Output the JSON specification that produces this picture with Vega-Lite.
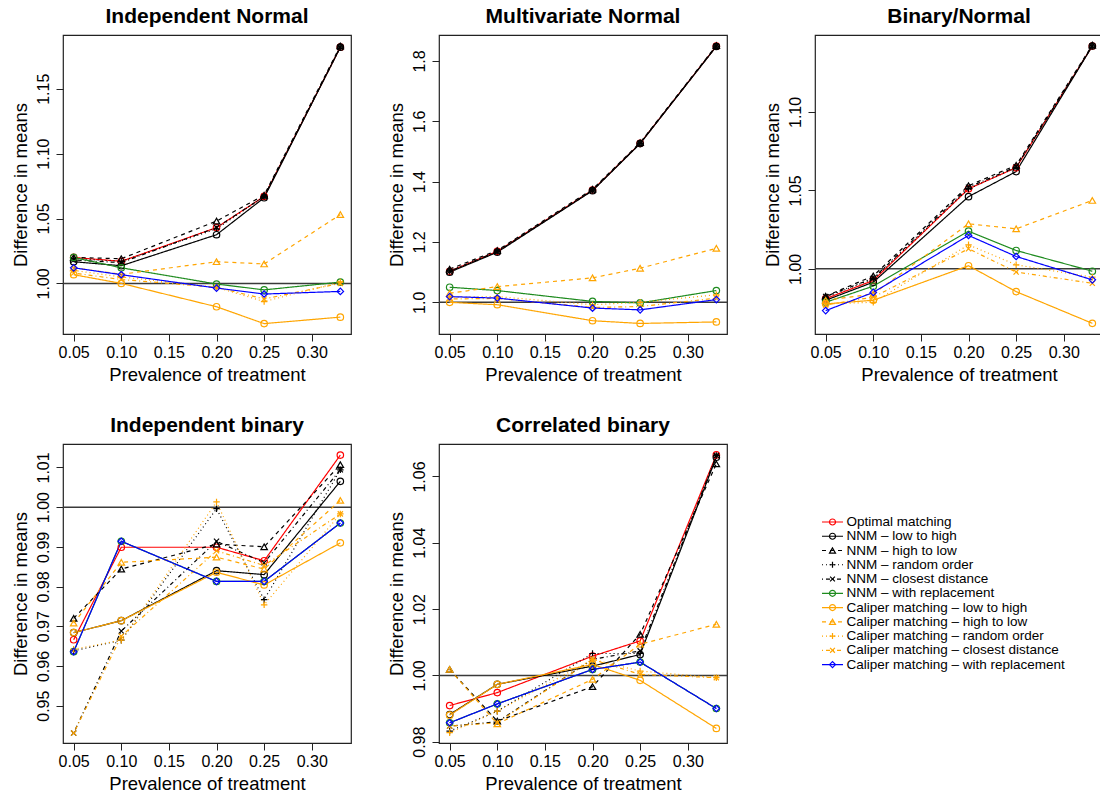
{
"$schema": "https://vega.github.io/schema/vega-lite/v6.json",
"padding": {"left": 10, "top": 5, "right": 0, "bottom": 0},
"background": "white",
"bounds": "flush",
"columns": 3,
"spacing": {"row": 110, "column": 88},
"resolve": {"scale": {"x": "independent", "y": "independent"}},
"datasets": {
"main": [
{"p":"IN","s":"OPT","x":0.05,"y":1.020},{"p":"IN","s":"OPT","x":0.1,"y":1.017},{"p":"IN","s":"OPT","x":0.2,"y":1.043},{"p":"IN","s":"OPT","x":0.25,"y":1.067},{"p":"IN","s":"OPT","x":0.33,"y":1.182},
{"p":"IN","s":"NLH","x":0.05,"y":1.0167},{"p":"IN","s":"NLH","x":0.1,"y":1.0136},{"p":"IN","s":"NLH","x":0.2,"y":1.0375},{"p":"IN","s":"NLH","x":0.25,"y":1.066},{"p":"IN","s":"NLH","x":0.33,"y":1.182},
{"p":"IN","s":"NHL","x":0.05,"y":1.020},{"p":"IN","s":"NHL","x":0.1,"y":1.019},{"p":"IN","s":"NHL","x":0.2,"y":1.048},{"p":"IN","s":"NHL","x":0.25,"y":1.068},{"p":"IN","s":"NHL","x":0.33,"y":1.183},
{"p":"IN","s":"NRO","x":0.05,"y":1.019},{"p":"IN","s":"NRO","x":0.1,"y":1.017},{"p":"IN","s":"NRO","x":0.2,"y":1.042},{"p":"IN","s":"NRO","x":0.25,"y":1.067},{"p":"IN","s":"NRO","x":0.33,"y":1.182},
{"p":"IN","s":"NCD","x":0.05,"y":1.018},{"p":"IN","s":"NCD","x":0.1,"y":1.016},{"p":"IN","s":"NCD","x":0.2,"y":1.043},{"p":"IN","s":"NCD","x":0.25,"y":1.067},{"p":"IN","s":"NCD","x":0.33,"y":1.182},
{"p":"IN","s":"NWR","x":0.05,"y":1.020},{"p":"IN","s":"NWR","x":0.1,"y":1.012},{"p":"IN","s":"NWR","x":0.2,"y":0.9995},{"p":"IN","s":"NWR","x":0.25,"y":0.995},{"p":"IN","s":"NWR","x":0.33,"y":1.001},
{"p":"IN","s":"CLH","x":0.05,"y":1.0067},{"p":"IN","s":"CLH","x":0.1,"y":1.000},{"p":"IN","s":"CLH","x":0.2,"y":0.982},{"p":"IN","s":"CLH","x":0.25,"y":0.969},{"p":"IN","s":"CLH","x":0.33,"y":0.974},
{"p":"IN","s":"CHL","x":0.05,"y":1.012},{"p":"IN","s":"CHL","x":0.1,"y":1.007},{"p":"IN","s":"CHL","x":0.2,"y":1.0167},{"p":"IN","s":"CHL","x":0.25,"y":1.015},{"p":"IN","s":"CHL","x":0.33,"y":1.053},
{"p":"IN","s":"CRO","x":0.05,"y":1.010},{"p":"IN","s":"CRO","x":0.1,"y":1.005},{"p":"IN","s":"CRO","x":0.2,"y":0.997},{"p":"IN","s":"CRO","x":0.25,"y":0.986},{"p":"IN","s":"CRO","x":0.33,"y":1.001},
{"p":"IN","s":"CCD","x":0.05,"y":1.008},{"p":"IN","s":"CCD","x":0.1,"y":1.003},{"p":"IN","s":"CCD","x":0.2,"y":0.997},{"p":"IN","s":"CCD","x":0.25,"y":0.988},{"p":"IN","s":"CCD","x":0.33,"y":1.000},
{"p":"IN","s":"CWR","x":0.05,"y":1.012},{"p":"IN","s":"CWR","x":0.1,"y":1.0067},{"p":"IN","s":"CWR","x":0.2,"y":0.9964},{"p":"IN","s":"CWR","x":0.25,"y":0.9918},{"p":"IN","s":"CWR","x":0.33,"y":0.9938},

{"p":"MN","s":"OPT","x":0.05,"y":1.103},{"p":"MN","s":"OPT","x":0.1,"y":1.169},{"p":"MN","s":"OPT","x":0.2,"y":1.372},{"p":"MN","s":"OPT","x":0.25,"y":1.527},{"p":"MN","s":"OPT","x":0.33,"y":1.849},
{"p":"MN","s":"NLH","x":0.05,"y":1.100},{"p":"MN","s":"NLH","x":0.1,"y":1.166},{"p":"MN","s":"NLH","x":0.2,"y":1.370},{"p":"MN","s":"NLH","x":0.25,"y":1.526},{"p":"MN","s":"NLH","x":0.33,"y":1.848},
{"p":"MN","s":"NHL","x":0.05,"y":1.110},{"p":"MN","s":"NHL","x":0.1,"y":1.172},{"p":"MN","s":"NHL","x":0.2,"y":1.375},{"p":"MN","s":"NHL","x":0.25,"y":1.529},{"p":"MN","s":"NHL","x":0.33,"y":1.851},
{"p":"MN","s":"NRO","x":0.05,"y":1.104},{"p":"MN","s":"NRO","x":0.1,"y":1.169},{"p":"MN","s":"NRO","x":0.2,"y":1.372},{"p":"MN","s":"NRO","x":0.25,"y":1.527},{"p":"MN","s":"NRO","x":0.33,"y":1.849},
{"p":"MN","s":"NCD","x":0.05,"y":1.103},{"p":"MN","s":"NCD","x":0.1,"y":1.168},{"p":"MN","s":"NCD","x":0.2,"y":1.371},{"p":"MN","s":"NCD","x":0.25,"y":1.527},{"p":"MN","s":"NCD","x":0.33,"y":1.849},
{"p":"MN","s":"NWR","x":0.05,"y":1.050},{"p":"MN","s":"NWR","x":0.1,"y":1.039},{"p":"MN","s":"NWR","x":0.2,"y":1.003},{"p":"MN","s":"NWR","x":0.25,"y":0.998},{"p":"MN","s":"NWR","x":0.33,"y":1.039},
{"p":"MN","s":"CLH","x":0.05,"y":1.000},{"p":"MN","s":"CLH","x":0.1,"y":0.992},{"p":"MN","s":"CLH","x":0.2,"y":0.939},{"p":"MN","s":"CLH","x":0.25,"y":0.930},{"p":"MN","s":"CLH","x":0.33,"y":0.935},
{"p":"MN","s":"CHL","x":0.05,"y":1.030},{"p":"MN","s":"CHL","x":0.1,"y":1.052},{"p":"MN","s":"CHL","x":0.2,"y":1.081},{"p":"MN","s":"CHL","x":0.25,"y":1.113},{"p":"MN","s":"CHL","x":0.33,"y":1.179},
{"p":"MN","s":"CRO","x":0.05,"y":1.017},{"p":"MN","s":"CRO","x":0.1,"y":1.019},{"p":"MN","s":"CRO","x":0.2,"y":0.992},{"p":"MN","s":"CRO","x":0.25,"y":1.000},{"p":"MN","s":"CRO","x":0.33,"y":1.025},
{"p":"MN","s":"CCD","x":0.05,"y":1.011},{"p":"MN","s":"CCD","x":0.1,"y":1.013},{"p":"MN","s":"CCD","x":0.2,"y":0.983},{"p":"MN","s":"CCD","x":0.25,"y":0.986},{"p":"MN","s":"CCD","x":0.33,"y":1.014},
{"p":"MN","s":"CWR","x":0.05,"y":1.019},{"p":"MN","s":"CWR","x":0.1,"y":1.014},{"p":"MN","s":"CWR","x":0.2,"y":0.981},{"p":"MN","s":"CWR","x":0.25,"y":0.975},{"p":"MN","s":"CWR","x":0.33,"y":1.009},

{"p":"BN","s":"OPT","x":0.05,"y":0.981},{"p":"BN","s":"OPT","x":0.1,"y":0.9926},{"p":"BN","s":"OPT","x":0.2,"y":1.051},{"p":"BN","s":"OPT","x":0.25,"y":1.0645},{"p":"BN","s":"OPT","x":0.33,"y":1.142},
{"p":"BN","s":"NLH","x":0.05,"y":0.980},{"p":"BN","s":"NLH","x":0.1,"y":0.9915},{"p":"BN","s":"NLH","x":0.2,"y":1.046},{"p":"BN","s":"NLH","x":0.25,"y":1.062},{"p":"BN","s":"NLH","x":0.33,"y":1.142},
{"p":"BN","s":"NHL","x":0.05,"y":0.9826},{"p":"BN","s":"NHL","x":0.1,"y":0.9955},{"p":"BN","s":"NHL","x":0.2,"y":1.053},{"p":"BN","s":"NHL","x":0.25,"y":1.066},{"p":"BN","s":"NHL","x":0.33,"y":1.1426},
{"p":"BN","s":"NRO","x":0.05,"y":0.982},{"p":"BN","s":"NRO","x":0.1,"y":0.9936},{"p":"BN","s":"NRO","x":0.2,"y":1.051},{"p":"BN","s":"NRO","x":0.25,"y":1.0645},{"p":"BN","s":"NRO","x":0.33,"y":1.142},
{"p":"BN","s":"NCD","x":0.05,"y":0.9824},{"p":"BN","s":"NCD","x":0.1,"y":0.994},{"p":"BN","s":"NCD","x":0.2,"y":1.052},{"p":"BN","s":"NCD","x":0.25,"y":1.065},{"p":"BN","s":"NCD","x":0.33,"y":1.142},
{"p":"BN","s":"NWR","x":0.05,"y":0.9787},{"p":"BN","s":"NWR","x":0.1,"y":0.989},{"p":"BN","s":"NWR","x":0.2,"y":1.024},{"p":"BN","s":"NWR","x":0.25,"y":1.0117},{"p":"BN","s":"NWR","x":0.33,"y":0.9985},
{"p":"BN","s":"CLH","x":0.05,"y":0.9777},{"p":"BN","s":"CLH","x":0.1,"y":0.980},{"p":"BN","s":"CLH","x":0.2,"y":1.002},{"p":"BN","s":"CLH","x":0.25,"y":0.9855},{"p":"BN","s":"CLH","x":0.33,"y":0.9653},
{"p":"BN","s":"CHL","x":0.05,"y":0.980},{"p":"BN","s":"CHL","x":0.1,"y":0.984},{"p":"BN","s":"CHL","x":0.2,"y":1.0287},{"p":"BN","s":"CHL","x":0.25,"y":1.0255},{"p":"BN","s":"CHL","x":0.33,"y":1.0436},
{"p":"BN","s":"CRO","x":0.05,"y":0.9777},{"p":"BN","s":"CRO","x":0.1,"y":0.9787},{"p":"BN","s":"CRO","x":0.2,"y":1.0153},{"p":"BN","s":"CRO","x":0.25,"y":1.0026},{"p":"BN","s":"CRO","x":0.33,"y":0.9947},
{"p":"BN","s":"CCD","x":0.05,"y":0.977},{"p":"BN","s":"CCD","x":0.1,"y":0.982},{"p":"BN","s":"CCD","x":0.2,"y":1.0128},{"p":"BN","s":"CCD","x":0.25,"y":0.998},{"p":"BN","s":"CCD","x":0.33,"y":0.9908},
{"p":"BN","s":"CWR","x":0.05,"y":0.9734},{"p":"BN","s":"CWR","x":0.1,"y":0.985},{"p":"BN","s":"CWR","x":0.2,"y":1.0213},{"p":"BN","s":"CWR","x":0.25,"y":1.0079},{"p":"BN","s":"CWR","x":0.33,"y":0.993},

{"p":"IB","s":"OPT","x":0.05,"y":0.9666},{"p":"IB","s":"OPT","x":0.1,"y":0.9899},{"p":"IB","s":"OPT","x":0.2,"y":0.9899},{"p":"IB","s":"OPT","x":0.25,"y":0.9865},{"p":"IB","s":"OPT","x":0.33,"y":1.0131},
{"p":"IB","s":"NLH","x":0.05,"y":0.9684},{"p":"IB","s":"NLH","x":0.1,"y":0.9714},{"p":"IB","s":"NLH","x":0.2,"y":0.984},{"p":"IB","s":"NLH","x":0.25,"y":0.983},{"p":"IB","s":"NLH","x":0.33,"y":1.0065},
{"p":"IB","s":"NHL","x":0.05,"y":0.972},{"p":"IB","s":"NHL","x":0.1,"y":0.9844},{"p":"IB","s":"NHL","x":0.2,"y":0.9907},{"p":"IB","s":"NHL","x":0.25,"y":0.990},{"p":"IB","s":"NHL","x":0.33,"y":1.0107},
{"p":"IB","s":"NRO","x":0.05,"y":0.9638},{"p":"IB","s":"NRO","x":0.1,"y":0.9665},{"p":"IB","s":"NRO","x":0.2,"y":0.9996},{"p":"IB","s":"NRO","x":0.25,"y":0.9767},{"p":"IB","s":"NRO","x":0.33,"y":1.0094},
{"p":"IB","s":"NCD","x":0.05,"y":0.9431},{"p":"IB","s":"NCD","x":0.1,"y":0.9688},{"p":"IB","s":"NCD","x":0.2,"y":0.9914},{"p":"IB","s":"NCD","x":0.25,"y":0.986},{"p":"IB","s":"NCD","x":0.33,"y":1.0094},
{"p":"IB","s":"NWR","x":0.05,"y":0.9636},{"p":"IB","s":"NWR","x":0.1,"y":0.9914},{"p":"IB","s":"NWR","x":0.2,"y":0.9813},{"p":"IB","s":"NWR","x":0.25,"y":0.9813},{"p":"IB","s":"NWR","x":0.33,"y":0.996},
{"p":"IB","s":"CLH","x":0.05,"y":0.9684},{"p":"IB","s":"CLH","x":0.1,"y":0.9714},{"p":"IB","s":"CLH","x":0.2,"y":0.9836},{"p":"IB","s":"CLH","x":0.25,"y":0.9804},{"p":"IB","s":"CLH","x":0.33,"y":0.991},
{"p":"IB","s":"CHL","x":0.05,"y":0.9708},{"p":"IB","s":"CHL","x":0.1,"y":0.9861},{"p":"IB","s":"CHL","x":0.2,"y":0.9874},{"p":"IB","s":"CHL","x":0.25,"y":0.9844},{"p":"IB","s":"CHL","x":0.33,"y":1.0017},
{"p":"IB","s":"CRO","x":0.05,"y":0.9642},{"p":"IB","s":"CRO","x":0.1,"y":0.9665},{"p":"IB","s":"CRO","x":0.2,"y":1.0013},{"p":"IB","s":"CRO","x":0.25,"y":0.9754},{"p":"IB","s":"CRO","x":0.33,"y":0.9983},
{"p":"IB","s":"CCD","x":0.05,"y":0.9431},{"p":"IB","s":"CCD","x":0.1,"y":0.9675},{"p":"IB","s":"CCD","x":0.2,"y":0.989},{"p":"IB","s":"CCD","x":0.25,"y":0.9853},{"p":"IB","s":"CCD","x":0.33,"y":0.9983},
{"p":"IB","s":"CWR","x":0.05,"y":0.9636},{"p":"IB","s":"CWR","x":0.1,"y":0.9914},{"p":"IB","s":"CWR","x":0.2,"y":0.9813},{"p":"IB","s":"CWR","x":0.25,"y":0.9813},{"p":"IB","s":"CWR","x":0.33,"y":0.996},

{"p":"CB","s":"OPT","x":0.05,"y":0.9909},{"p":"CB","s":"OPT","x":0.1,"y":0.9948},{"p":"CB","s":"OPT","x":0.2,"y":1.0058},{"p":"CB","s":"OPT","x":0.25,"y":1.0104},{"p":"CB","s":"OPT","x":0.33,"y":1.0665},
{"p":"CB","s":"NLH","x":0.05,"y":0.9882},{"p":"CB","s":"NLH","x":0.1,"y":0.9973},{"p":"CB","s":"NLH","x":0.2,"y":1.0028},{"p":"CB","s":"NLH","x":0.25,"y":1.0063},{"p":"CB","s":"NLH","x":0.33,"y":1.0658},
{"p":"CB","s":"NHL","x":0.05,"y":1.0018},{"p":"CB","s":"NHL","x":0.1,"y":0.9862},{"p":"CB","s":"NHL","x":0.2,"y":0.9966},{"p":"CB","s":"NHL","x":0.25,"y":1.0124},{"p":"CB","s":"NHL","x":0.33,"y":1.0638},
{"p":"CB","s":"NRO","x":0.05,"y":0.9832},{"p":"CB","s":"NRO","x":0.1,"y":0.9892},{"p":"CB","s":"NRO","x":0.2,"y":1.0066},{"p":"CB","s":"NRO","x":0.25,"y":1.0066},{"p":"CB","s":"NRO","x":0.33,"y":1.0663},
{"p":"CB","s":"NCD","x":0.05,"y":0.9847},{"p":"CB","s":"NCD","x":0.1,"y":0.986},{"p":"CB","s":"NCD","x":0.2,"y":1.0048},{"p":"CB","s":"NCD","x":0.25,"y":1.0074},{"p":"CB","s":"NCD","x":0.33,"y":1.0663},
{"p":"CB","s":"NWR","x":0.05,"y":0.9857},{"p":"CB","s":"NWR","x":0.1,"y":0.9914},{"p":"CB","s":"NWR","x":0.2,"y":1.0018},{"p":"CB","s":"NWR","x":0.25,"y":1.004},{"p":"CB","s":"NWR","x":0.33,"y":0.990},
{"p":"CB","s":"CLH","x":0.05,"y":0.988},{"p":"CB","s":"CLH","x":0.1,"y":0.9973},{"p":"CB","s":"CLH","x":0.2,"y":1.0033},{"p":"CB","s":"CLH","x":0.25,"y":0.9985},{"p":"CB","s":"CLH","x":0.33,"y":0.984},
{"p":"CB","s":"CHL","x":0.05,"y":1.0018},{"p":"CB","s":"CHL","x":0.1,"y":0.9854},{"p":"CB","s":"CHL","x":0.2,"y":0.9988},{"p":"CB","s":"CHL","x":0.25,"y":1.0094},{"p":"CB","s":"CHL","x":0.33,"y":1.0154},
{"p":"CB","s":"CRO","x":0.05,"y":0.9827},{"p":"CB","s":"CRO","x":0.1,"y":0.9892},{"p":"CB","s":"CRO","x":0.2,"y":1.0048},{"p":"CB","s":"CRO","x":0.25,"y":1.0013},{"p":"CB","s":"CRO","x":0.33,"y":0.9993},
{"p":"CB","s":"CCD","x":0.05,"y":0.9847},{"p":"CB","s":"CCD","x":0.1,"y":0.9857},{"p":"CB","s":"CCD","x":0.2,"y":1.0048},{"p":"CB","s":"CCD","x":0.25,"y":1.0003},{"p":"CB","s":"CCD","x":0.33,"y":0.9993},
{"p":"CB","s":"CWR","x":0.05,"y":0.9857},{"p":"CB","s":"CWR","x":0.1,"y":0.9914},{"p":"CB","s":"CWR","x":0.2,"y":1.0018},{"p":"CB","s":"CWR","x":0.25,"y":1.004},{"p":"CB","s":"CWR","x":0.33,"y":0.990}
],
"legend": [
{"s":"OPT","i":0,"label":"Optimal matching"},
{"s":"NLH","i":1,"label":"NNM – low to high"},
{"s":"NHL","i":2,"label":"NNM – high to low"},
{"s":"NRO","i":3,"label":"NNM – random order"},
{"s":"NCD","i":4,"label":"NNM – closest distance"},
{"s":"NWR","i":5,"label":"NNM – with replacement"},
{"s":"CLH","i":6,"label":"Caliper matching – low to high"},
{"s":"CHL","i":7,"label":"Caliper matching – high to low"},
{"s":"CRO","i":8,"label":"Caliper matching – random order"},
{"s":"CCD","i":9,"label":"Caliper matching – closest distance"},
{"s":"CWR","i":10,"label":"Caliper matching – with replacement"}
]
},
"concat": [
{"title": "Independent Normal", "width": 288, "height": 299,
 "layer": [
  {"data": {"values": [{"y": 1}]}, "mark": {"type": "rule", "color": "#3a3a3a", "strokeWidth": 1.5},
   "encoding": {"y": {"field": "y", "type": "quantitative", "scale": {"domain": [0.961, 1.1914], "nice": false, "zero": false}, "axis": {"values": [1, 1.05, 1.1, 1.15], "format": ".2f", "title": "Difference in means"}}}},
  {"data": {"name": "main"}, "transform": [{"filter": "datum.p == 'IN'"}], "mark": {"type": "line", "strokeWidth": 1.2},
   "encoding": {
    "x": {"field": "x", "type": "quantitative", "scale": {"domain": [0.0388, 0.3412], "nice": false, "zero": false}, "axis": {"values": [0.05, 0.1, 0.15, 0.2, 0.25, 0.3], "format": ".2f", "title": "Prevalence of treatment"}},
    "y": {"field": "y", "type": "quantitative", "scale": {"domain": [0.961, 1.1914], "nice": false, "zero": false}, "axis": {"values": [1, 1.05, 1.1, 1.15], "format": ".2f", "title": "Difference in means"}},
    "color": {"field": "s", "type": "nominal", "scale": {"domain": ["OPT","NLH","NHL","NRO","NCD","NWR","CLH","CHL","CRO","CCD","CWR"], "range": ["#FF0000","#000000","#000000","#000000","#000000","#1E8B1E","#FFA500","#FFA500","#FFA500","#FFA500","#0000FF"]}, "legend": null},
    "strokeDash": {"field": "s", "type": "nominal", "scale": {"domain": ["OPT","NLH","NHL","NRO","NCD","NWR","CLH","CHL","CRO","CCD","CWR"], "range": [[1,0],[1,0],[4,4],[1,3],[1,3,4,3],[1,0],[1,0],[4,4],[1,3],[1,3,4,3],[1,0]]}, "legend": null}}},
  {"data": {"name": "main"}, "transform": [{"filter": "datum.p == 'IN'"}], "mark": {"type": "point", "filled": false, "size": 42, "strokeWidth": 1.2, "opacity": 1},
   "encoding": {
    "x": {"field": "x", "type": "quantitative"},
    "y": {"field": "y", "type": "quantitative"},
    "color": {"field": "s", "type": "nominal", "legend": null},
    "shape": {"field": "s", "type": "nominal", "scale": {"domain": ["OPT","NLH","NHL","NRO","NCD","NWR","CLH","CHL","CRO","CCD","CWR"], "range": ["circle","circle","triangle-up","M-1,0L1,0M0,-1L0,1","M-0.8,-0.8L0.8,0.8M-0.8,0.8L0.8,-0.8","circle","circle","triangle-up","M-1,0L1,0M0,-1L0,1","M-0.8,-0.8L0.8,0.8M-0.8,0.8L0.8,-0.8","diamond"]}, "legend": null}}}
 ]},
{"title": "Multivariate Normal", "width": 288, "height": 299,
 "layer": [
  {"data": {"values": [{"y": 1}]}, "mark": {"type": "rule", "color": "#3a3a3a", "strokeWidth": 1.5},
   "encoding": {"y": {"field": "y", "type": "quantitative", "scale": {"domain": [0.895, 1.886], "nice": false, "zero": false}, "axis": {"values": [1, 1.2, 1.4, 1.6, 1.8], "format": ".1f", "title": "Difference in means"}}}},
  {"data": {"name": "main"}, "transform": [{"filter": "datum.p == 'MN'"}], "mark": {"type": "line", "strokeWidth": 1.2},
   "encoding": {
    "x": {"field": "x", "type": "quantitative", "scale": {"domain": [0.0388, 0.3412], "nice": false, "zero": false}, "axis": {"values": [0.05, 0.1, 0.15, 0.2, 0.25, 0.3], "format": ".2f", "title": "Prevalence of treatment"}},
    "y": {"field": "y", "type": "quantitative", "scale": {"domain": [0.895, 1.886], "nice": false, "zero": false}, "axis": {"values": [1, 1.2, 1.4, 1.6, 1.8], "format": ".1f", "title": "Difference in means"}},
    "color": {"field": "s", "type": "nominal", "legend": null},
    "strokeDash": {"field": "s", "type": "nominal", "legend": null}}},
  {"data": {"name": "main"}, "transform": [{"filter": "datum.p == 'MN'"}], "mark": {"type": "point", "filled": false, "size": 42, "strokeWidth": 1.2, "opacity": 1},
   "encoding": {
    "x": {"field": "x", "type": "quantitative"},
    "y": {"field": "y", "type": "quantitative"},
    "color": {"field": "s", "type": "nominal", "legend": null},
    "shape": {"field": "s", "type": "nominal", "legend": null}}}
 ]},
{"title": "Binary/Normal", "width": 288, "height": 299,
 "layer": [
  {"data": {"values": [{"y": 1}]}, "mark": {"type": "rule", "color": "#3a3a3a", "strokeWidth": 1.5},
   "encoding": {"y": {"field": "y", "type": "quantitative", "scale": {"domain": [0.9585, 1.149], "nice": false, "zero": false}, "axis": {"values": [1, 1.05, 1.1], "format": ".2f", "title": "Difference in means"}}}},
  {"data": {"name": "main"}, "transform": [{"filter": "datum.p == 'BN'"}], "mark": {"type": "line", "strokeWidth": 1.2},
   "encoding": {
    "x": {"field": "x", "type": "quantitative", "scale": {"domain": [0.0388, 0.3412], "nice": false, "zero": false}, "axis": {"values": [0.05, 0.1, 0.15, 0.2, 0.25, 0.3], "format": ".2f", "title": "Prevalence of treatment"}},
    "y": {"field": "y", "type": "quantitative", "scale": {"domain": [0.9585, 1.149], "nice": false, "zero": false}, "axis": {"values": [1, 1.05, 1.1], "format": ".2f", "title": "Difference in means"}},
    "color": {"field": "s", "type": "nominal", "legend": null},
    "strokeDash": {"field": "s", "type": "nominal", "legend": null}}},
  {"data": {"name": "main"}, "transform": [{"filter": "datum.p == 'BN'"}], "mark": {"type": "point", "filled": false, "size": 42, "strokeWidth": 1.2, "opacity": 1},
   "encoding": {
    "x": {"field": "x", "type": "quantitative"},
    "y": {"field": "y", "type": "quantitative"},
    "color": {"field": "s", "type": "nominal", "legend": null},
    "shape": {"field": "s", "type": "nominal", "legend": null}}}
 ]},
{"title": "Independent binary", "width": 288, "height": 299,
 "layer": [
  {"data": {"values": [{"y": 1}]}, "mark": {"type": "rule", "color": "#3a3a3a", "strokeWidth": 1.5},
   "encoding": {"y": {"field": "y", "type": "quantitative", "scale": {"domain": [0.9406, 1.0159], "nice": false, "zero": false}, "axis": {"values": [0.95, 0.96, 0.97, 0.98, 0.99, 1, 1.01], "format": ".2f", "title": "Difference in means"}}}},
  {"data": {"name": "main"}, "transform": [{"filter": "datum.p == 'IB'"}], "mark": {"type": "line", "strokeWidth": 1.2},
   "encoding": {
    "x": {"field": "x", "type": "quantitative", "scale": {"domain": [0.0388, 0.3412], "nice": false, "zero": false}, "axis": {"values": [0.05, 0.1, 0.15, 0.2, 0.25, 0.3], "format": ".2f", "title": "Prevalence of treatment"}},
    "y": {"field": "y", "type": "quantitative", "scale": {"domain": [0.9406, 1.0159], "nice": false, "zero": false}, "axis": {"values": [0.95, 0.96, 0.97, 0.98, 0.99, 1, 1.01], "format": ".2f", "title": "Difference in means"}},
    "color": {"field": "s", "type": "nominal", "legend": null},
    "strokeDash": {"field": "s", "type": "nominal", "legend": null}}},
  {"data": {"name": "main"}, "transform": [{"filter": "datum.p == 'IB'"}], "mark": {"type": "point", "filled": false, "size": 42, "strokeWidth": 1.2, "opacity": 1},
   "encoding": {
    "x": {"field": "x", "type": "quantitative"},
    "y": {"field": "y", "type": "quantitative"},
    "color": {"field": "s", "type": "nominal", "legend": null},
    "shape": {"field": "s", "type": "nominal", "legend": null}}}
 ]},
{"title": "Correlated binary", "width": 288, "height": 299,
 "layer": [
  {"data": {"values": [{"y": 1}]}, "mark": {"type": "rule", "color": "#3a3a3a", "strokeWidth": 1.5},
   "encoding": {"y": {"field": "y", "type": "quantitative", "scale": {"domain": [0.9796, 1.0698], "nice": false, "zero": false}, "axis": {"values": [0.98, 1, 1.02, 1.04, 1.06], "format": ".2f", "title": "Difference in means"}}}},
  {"data": {"name": "main"}, "transform": [{"filter": "datum.p == 'CB'"}], "mark": {"type": "line", "strokeWidth": 1.2},
   "encoding": {
    "x": {"field": "x", "type": "quantitative", "scale": {"domain": [0.0388, 0.3412], "nice": false, "zero": false}, "axis": {"values": [0.05, 0.1, 0.15, 0.2, 0.25, 0.3], "format": ".2f", "title": "Prevalence of treatment"}},
    "y": {"field": "y", "type": "quantitative", "scale": {"domain": [0.9796, 1.0698], "nice": false, "zero": false}, "axis": {"values": [0.98, 1, 1.02, 1.04, 1.06], "format": ".2f", "title": "Difference in means"}},
    "color": {"field": "s", "type": "nominal", "legend": null},
    "strokeDash": {"field": "s", "type": "nominal", "legend": null}}},
  {"data": {"name": "main"}, "transform": [{"filter": "datum.p == 'CB'"}], "mark": {"type": "point", "filled": false, "size": 42, "strokeWidth": 1.2, "opacity": 1},
   "encoding": {
    "x": {"field": "x", "type": "quantitative"},
    "y": {"field": "y", "type": "quantitative"},
    "color": {"field": "s", "type": "nominal", "legend": null},
    "shape": {"field": "s", "type": "nominal", "legend": null}}}
 ]},
{"width": 288, "height": 299, "view": {"stroke": null},
 "data": {"name": "legend"},
 "layer": [
  {"mark": {"type": "rule", "strokeWidth": 1.2},
   "encoding": {
    "x": {"datum": 7, "type": "quantitative", "scale": {"domain": [0, 288], "nice": false, "zero": false}, "axis": null},
    "x2": {"datum": 28},
    "y": {"field": "i", "type": "quantitative", "scale": {"domain": [-5.47, 15.5], "reverse": true, "nice": false, "zero": false}, "axis": null},
    "color": {"field": "s", "type": "nominal", "legend": null},
    "strokeDash": {"field": "s", "type": "nominal", "legend": null}}},
  {"mark": {"type": "point", "filled": false, "size": 36, "strokeWidth": 1.2, "opacity": 1},
   "encoding": {
    "x": {"datum": 17.5, "type": "quantitative"},
    "y": {"field": "i", "type": "quantitative"},
    "color": {"field": "s", "type": "nominal", "legend": null},
    "shape": {"field": "s", "type": "nominal", "legend": null}}},
  {"mark": {"type": "text", "align": "left", "baseline": "middle", "fontSize": 13.5, "color": "#000000", "font": "Liberation Sans"},
   "encoding": {
    "x": {"datum": 31.5, "type": "quantitative"},
    "y": {"field": "i", "type": "quantitative"},
    "text": {"field": "label", "type": "nominal"}}}
 ]}
],
"config": {
 "font": "Liberation Sans",
 "view": {"stroke": "#222222", "strokeWidth": 1.2},
 "axis": {"domain": false, "grid": false, "tickColor": "#222222", "tickSize": 7, "tickWidth": 1, "labelFont": "Liberation Sans", "labelFontSize": 16, "labelColor": "#000000", "labelFlush": false, "labelOverlap": false, "titleFont": "Liberation Sans", "titleFontSize": 18.5, "titleFontWeight": "normal", "titleColor": "#000000"},
 "axisX": {"labelPadding": 3, "titlePadding": 5},
 "axisY": {"labelAngle": 270, "labelAlign": "center", "labelBaseline": "bottom", "labelPadding": 5, "titlePadding": 5},
 "title": {"fontSize": 21, "fontWeight": "bold", "font": "Liberation Sans", "anchor": "middle", "offset": 8, "color": "#000000"}
}
}
